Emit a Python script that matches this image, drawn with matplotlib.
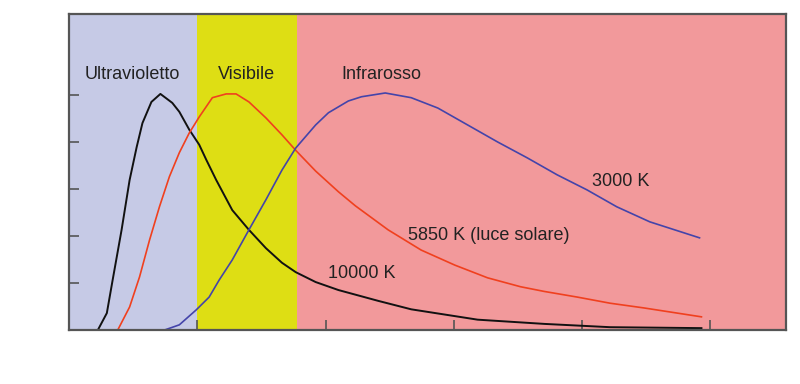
import matplotlib.pyplot as plt

plt.rcParams['font.family'] = ['Liberation Sans', 'DejaVu Sans']

# wavelength (nm) / relative intensity
x_10000 = [90, 118, 136, 164, 189, 211, 229, 257, 285, 322, 344, 375, 406, 428, 459, 509,
           561, 614, 664, 707, 769, 840, 964, 1067, 1274, 1482, 1687, 1972]
y_10000 = [0, 0.36, 1.06, 2.13, 3.19, 3.89, 4.40, 4.85, 5.02, 4.83, 4.64, 4.26, 3.94, 3.62, 3.19, 2.55,
           2.13, 1.74, 1.43, 1.23, 1.02, 0.85, 0.62, 0.44, 0.22, 0.13, 0.06, 0.04]

x_5850 = [90, 152, 189, 220, 251, 282, 313, 344, 375, 406, 447, 490, 521, 561, 614, 664, 707,
          769, 840, 893, 995, 1098, 1203, 1305, 1408, 1482, 1585, 1687, 1792, 1972]
y_5850 = [0, 0, 0.49, 1.13, 1.91, 2.62, 3.26, 3.77, 4.19, 4.53, 4.94, 5.02, 5.02, 4.85, 4.51, 4.15, 3.82,
          3.38, 2.94, 2.64, 2.13, 1.70, 1.38, 1.11, 0.92, 0.82, 0.70, 0.57, 0.47, 0.28]

x_3000 = [96, 298, 344, 397, 437, 468, 509, 561, 614, 664, 707, 769, 809, 871, 912, 986, 1067,
          1150, 1243, 1336, 1429, 1522, 1615, 1708, 1811, 1966]
y_3000 = [0, 0, 0.11, 0.43, 0.70, 1.06, 1.49, 2.13, 2.77, 3.40, 3.87, 4.36, 4.62, 4.87, 4.96, 5.04, 4.94,
          4.72, 4.36, 4.00, 3.66, 3.30, 2.98, 2.62, 2.30, 1.96]

bands = ['Ultravioletto', 'Visibile', 'Infrarosso']
band_edges = [0, 400, 710, 2240]
band_colors = ['#c6cae6', '#dede14', '#f2999b']
band_label_x = [198, 552, 973]

fig = plt.figure(figsize=(8, 3.84), dpi=100)
ax = fig.add_axes([0.08625, 0.1406, 0.896, 0.823])

for i in range(3):
    ax.axvspan(band_edges[i], band_edges[i + 1], color=band_colors[i], lw=0, zorder=0)
    ax.text(band_label_x[i], 5.43, bands[i], fontsize=13, ha='center', va='center', color='#222222')

ax.plot(x_10000, y_10000, color='#111111', lw=1.4)
ax.plot(x_5850, y_5850, color='#f0401e', lw=1.2)
ax.plot(x_3000, y_3000, color='#4444aa', lw=1.2)

ax.text(1631, 3.15, '3000 K', fontsize=13, va='center', color='#222222')
ax.text(1057, 2.0, '5850 K (luce solare)', fontsize=13, va='center', color='#222222')
ax.text(809, 1.21, '10000 K', fontsize=13, va='center', color='#222222')

ax.set_xlim(0, 2235)
ax.set_ylim(0, 6.72)
ax.set_xticks([400, 800, 1200, 1600, 2000])
ax.set_yticks([1, 2, 3, 4, 5])
ax.tick_params(direction='in', length=7, width=1.2, color='#555555',
               labelbottom=False, labelleft=False)
for s in ax.spines.values():
    s.set_color('#555555')
    s.set_linewidth(1.6)

fig.savefig('out.png', dpi=100)
